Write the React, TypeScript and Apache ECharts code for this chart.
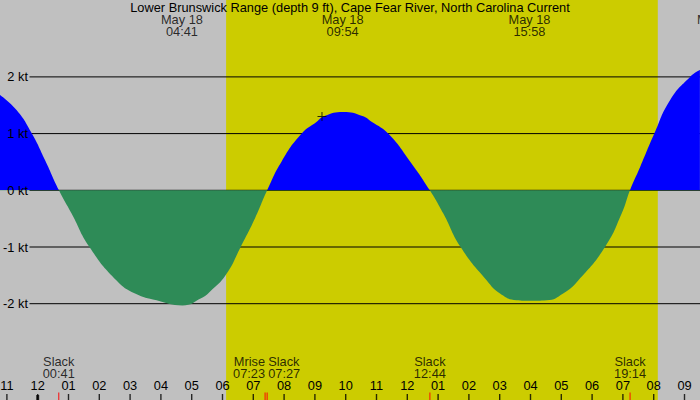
import React, { useEffect, useRef } from 'react'
import * as echarts from 'echarts'

const TITLE = 'Lower Brunswick Range (depth 9 ft), Cape Fear River, North Carolina Current'
const DAY = 'May 18'

// hours after midnight May 18 and current speed (kt)
const hours = [
  -1.224, -0.68, -0.19, 0.24, 0.69,
  1.10, 1.68, 2.56, 3.16, 3.86, 4.70, 5.32, 5.59, 6.11, 6.59, 7.06, 7.45,
  7.92, 8.57, 9.06, 9.31, 9.92, 10.54, 10.84, 11.38, 12.09, 12.73,
  13.17, 13.73, 14.58, 15.01, 15.55, 15.97, 16.53, 17.06, 17.55, 18.42, 18.96, 19.23,
  19.56, 20.02, 20.53, 21.18, 21.5,
]
const knots = [
  1.68, 1.41, 1.0, 0.53, 0,
  -0.41, -1.0, -1.59, -1.82, -1.94, -2.03, -1.9, -1.79, -1.49, -1.0, -0.49, 0,
  0.51, 1.0, 1.21, 1.31, 1.38, 1.31, 1.21, 1.0, 0.51, 0,
  -0.41, -1.0, -1.59, -1.82, -1.94, -1.95, -1.94, -1.82, -1.59, -1.0, -0.41, 0,
  0.41, 1.0, 1.59, 2.0, 2.12,
]

const slackTimes = ['00:41', '07:27', '12:44', '19:14']
const maxTimes = ['04:41', '09:54', '15:58', '22:05']
const moonriseTime = '07:23'
const sunriseTime = '06:07'
const sunsetTime = '20:08'
const nowMark = [9.23, 1.3]
const yTicks = [2, 1, 0, -1, -2]
// labels for hours -2 .. 23
const hourLabels = ['10', '11', '12', '01', '02', '03', '04', '05', '06', '07', '08', '09', '10', '11',
  '12', '01', '02', '03', '04', '05', '06', '07', '08', '09', '10', '11']

// pixel layout
const X0 = 37.7
const PX_H = 30.8
const ZERO_Y = 190.3
const PX_KT = 56.7
const X_MIN = -2
const X_MAX = 23
const Y_MIN = -4
const Y_MAX = 4
const FONT = 'Liberation Sans'
const FS = 12.8

const toH = (t: string) => { const [a, b] = t.split(':').map(Number); return a + b / 60 }
const toV = (y: number) => (ZERO_Y - y) / PX_KT
const toX = (px: number) => (px - X0) / PX_H

const gridLeft = X0 + X_MIN * PX_H
const gridTop = ZERO_Y - Y_MAX * PX_KT
const gridBottomY = ZERO_Y - Y_MIN * PX_KT

export default function App() {
  const ref = useRef<HTMLDivElement | null>(null)

  useEffect(() => {
    if (!ref.current) return
    const chart = echarts.init(ref.current, null, { renderer: 'svg' })
    const txt = { color: '#000', fontSize: FS, fontFamily: FONT }

    const bottomLabels: any[] = [
      ...slackTimes.map(t => ({
        value: [toH(t), toV(367)],
        label: { formatter: `Slack\n${t}`, align: t === '07:27' ? 'left' : 'center', offset: t === '07:27' ? [1, 0] : [0, 0] },
      })),
      { value: [toH(moonriseTime), toV(367)], label: { formatter: `Mrise\n${moonriseTime}`, align: 'right' } },
    ]
    const topLabels = maxTimes.map(t => ({ value: [toH(t), toV(25.5)], label: { formatter: `${DAY}\n${t}` } }))

    const gridSeries = yTicks.map(v => ({
      type: 'line', z: 2, silent: true, symbol: 'none',
      lineStyle: { color: '#000', width: 1 },
      data: [[toX(29.5), v], [X_MAX, v]],
    }))

    chart.setOption({
      animation: false,
      backgroundColor: '#c0c0c0',
      textStyle: { fontFamily: FONT },
      title: {
        text: TITLE, left: 'center', top: 1, padding: 0,
        textStyle: { ...txt, fontWeight: 'normal' },
      },
      grid: {
        left: gridLeft, top: gridTop, outerBoundsMode: 'none',
        width: (X_MAX - X_MIN) * PX_H, height: (Y_MAX - Y_MIN) * PX_KT,
      },
      xAxis: {
        type: 'value', min: X_MIN, max: X_MAX, interval: 1, z: 20,
        splitLine: { show: false }, axisLine: { show: false, onZero: false },
        axisTick: { show: false },
        axisLabel: {
          inside: true, margin: gridBottomY - 385.5, verticalAlign: 'middle', ...txt,
          formatter: (v: number) => hourLabels[Math.round(v - X_MIN)],
        },
      },
      yAxis: {
        type: 'value', min: Y_MIN, max: Y_MAX, interval: 1, z: 20,
        splitLine: { show: false }, axisLine: { show: false, onZero: false }, axisTick: { show: false },
        axisLabel: {
          inside: true, align: 'right', margin: 28 - gridLeft, ...txt,
          formatter: (v: number) => (yTicks.includes(v) ? `${v} kt` : ''),
        },
      },
      visualMap: {
        show: false, type: 'piecewise', dimension: 1, seriesIndex: 1 + yTicks.length,
        pieces: [{ gte: 0, lte: 10, color: '#0000ff' }, { gte: -10, lt: 0, color: '#2e8b57' }],
      },
      series: [
        {
          type: 'custom', z: 1, silent: true,
          data: [[toH(sunriseTime), toH(sunsetTime)]],
          renderItem: (params: any, api: any) => {
            const a = api.coord([api.value(0), Y_MAX])
            const b = api.coord([api.value(1), Y_MIN])
            return { type: 'rect', shape: { x: a[0], y: a[1], width: b[0] - a[0], height: b[1] - a[1] }, style: { fill: '#cccc00' } }
          },
        },
        ...gridSeries,
        {
          type: 'line', z: 6,
          data: hours.map((h, i) => [h, knots[i]]),
          smooth: 0.5, symbol: 'none',
          lineStyle: { width: 0 },
          areaStyle: { opacity: 1 },
        },
        {
          type: 'scatter', z: 21, silent: true, symbol: 'rect',
          symbolSize: [1.4, 6],
          itemStyle: { color: '#000' },
          data: hourLabels.map((_, i) => [X_MIN + i, toV(397)]),
        },
        {
          type: 'scatter', z: 22, silent: true, symbol: 'rect',
          symbolSize: [1.2, 7.5],
          itemStyle: { color: '#ff0000' },
          data: [...slackTimes, moonriseTime].map(t => [toH(t), toV(396.25)]),
        },
        {
          type: 'scatter', z: 22, silent: true, symbol: 'rect',
          symbolSize: [3, 5],
          itemStyle: { color: '#000' },
          data: [[0, toV(397.5)]],
        },
        {
          type: 'scatter', z: 8, symbolSize: 0, silent: true,
          data: [...bottomLabels, ...topLabels],
          label: { show: true, position: 'inside', lineHeight: 12, ...txt },
        },
        {
          type: 'scatter', z: 8, silent: true,
          symbol: 'path://M0,4H9V5H0Z M4,0H5V9H4Z', symbolSize: 9,
          itemStyle: { color: '#000' },
          data: [nowMark],
        },
      ],
    } as any)

    return () => chart.dispose()
  }, [])

  return <div ref={ref} style={{ position: 'fixed', left: 0, top: 0, width: 700, height: 400 }} />
}
